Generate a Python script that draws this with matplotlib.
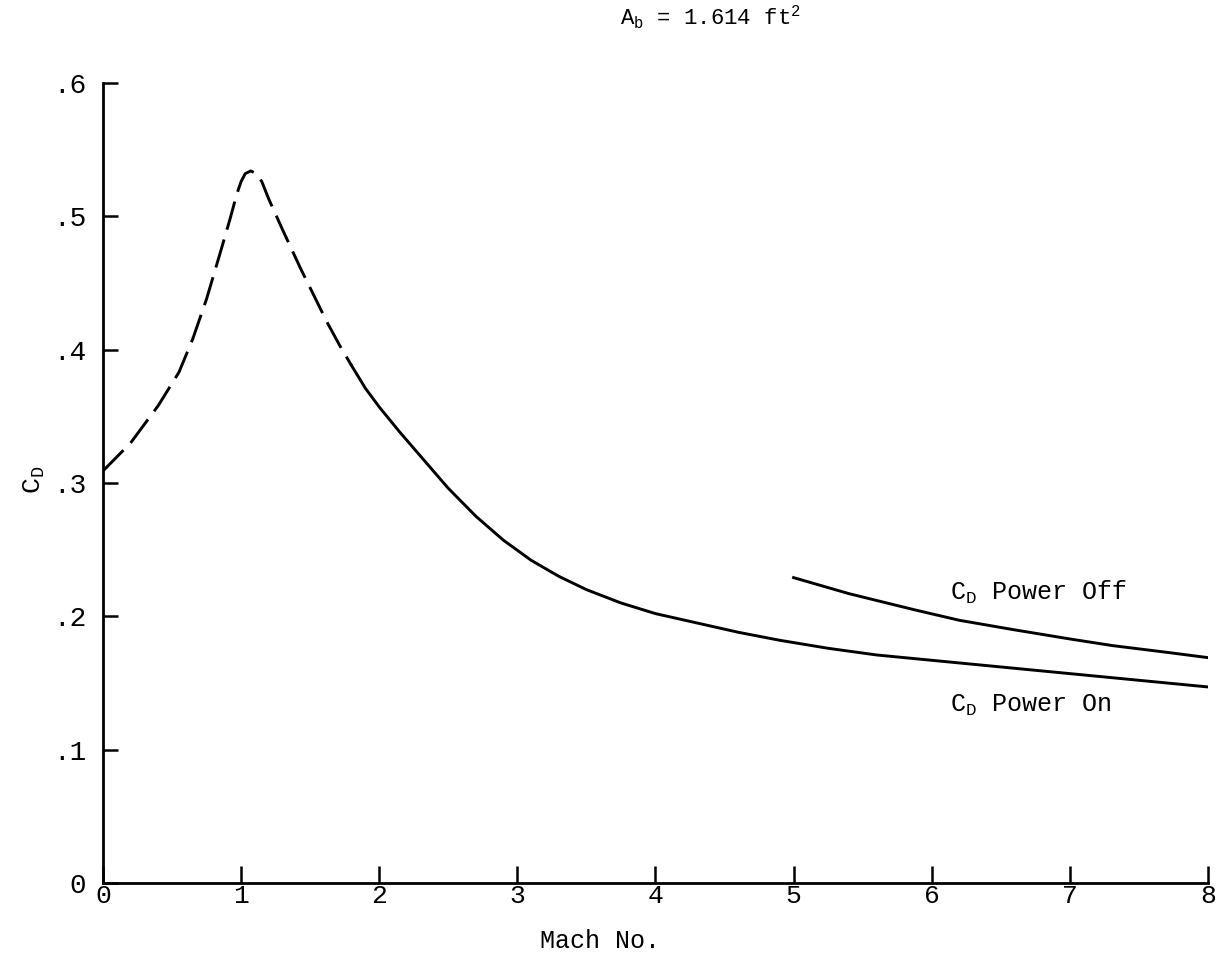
import numpy as np
import matplotlib.pyplot as plt

plt.rcParams['font.family'] = ['Liberation Mono', 'DejaVu Sans Mono']
plt.rcParams['mathtext.fontset'] = 'custom'
plt.rcParams['mathtext.rm'] = 'Liberation Mono'
plt.rcParams['mathtext.it'] = 'Liberation Mono'

# C_D vs Mach, power on (dashed part = estimated transonic region)
mach_dash = [0.00, 0.20, 0.40, 0.55, 0.65, 0.75, 0.85, 0.92, 0.97, 1.00, 1.03,
             1.07, 1.11, 1.15, 1.20, 1.30, 1.43, 1.53, 1.62, 1.72, 1.80]
cd_dash = [0.309, 0.330, 0.358, 0.383, 0.408, 0.438, 0.473, 0.498, 0.517, 0.526, 0.532,
           0.534, 0.532, 0.526, 0.513, 0.490, 0.461, 0.440, 0.421, 0.402, 0.388]

mach_on = [1.80, 1.90, 2.00, 2.15, 2.30, 2.50, 2.70, 2.90, 3.10, 3.30, 3.50, 3.75,
           4.00, 4.30, 4.60, 4.90, 5.25, 5.60, 6.00, 6.50, 7.00, 7.50, 8.00]
cd_on = [0.388, 0.371, 0.357, 0.338, 0.320, 0.296, 0.275, 0.257, 0.242, 0.230, 0.220, 0.210,
         0.202, 0.195, 0.188, 0.182, 0.176, 0.171, 0.167, 0.162, 0.157, 0.152, 0.147]

mach_off = [5.00, 5.40, 5.87, 6.20, 6.59, 7.00, 7.31, 7.70, 8.00]
cd_off = [0.229, 0.217, 0.205, 0.197, 0.190, 0.183, 0.178, 0.173, 0.169]

x_ticks = [0, 1, 2, 3, 4, 5, 6, 7, 8]
x_labels = ['0', '1', '2', '3', '4', '5', '6', '7', '8']
y_ticks = [0.0, 0.1, 0.2, 0.3, 0.4, 0.5, 0.6]
y_labels = ['0', '.1', '.2', '.3', '.4', '.5', '.6']

fig = plt.figure(figsize=(12.2, 9.69), dpi=100)
ax = fig.add_axes([0.0844, 0.0888, 0.9057, 0.8256])

ax.plot(mach_dash, cd_dash, color='black', lw=2.1, linestyle=(0, (10, 3.5)))
ax.plot(mach_on, cd_on, color='black', lw=2.1)
ax.plot(mach_off, cd_off, color='black', lw=2.1)

ax.set_xlim(0, 8)
ax.set_ylim(0, 0.6)
ax.spines['top'].set_visible(False)
ax.spines['right'].set_visible(False)
for s in ['left', 'bottom']:
    ax.spines[s].set_linewidth(2.0)

ax.set_xticks(x_ticks)
ax.set_xticklabels(x_labels, fontsize=19)
ax.set_yticks(y_ticks)
ax.set_yticklabels(y_labels, fontsize=20)
ax.tick_params(axis='y', direction='in', length=11, width=1.8, pad=12)
ax.tick_params(axis='x', direction='in', length=12, width=1.8, pad=1)

ax.text(6.13, 0.212, 'C$_\\mathrm{D}$ Power Off', fontsize=18)
ax.text(6.13, 0.128, 'C$_\\mathrm{D}$ Power On', fontsize=18)

fig.text(0.018, 0.505, 'C$_\\mathrm{D}$', rotation=90, fontsize=19, va='center')
fig.text(0.443, 0.022, 'Mach No.', fontsize=18)
fig.text(0.508, 0.982, 'A$_\\mathrm{b}$ = 1.614 ft$^2$', fontsize=16, va='center')

fig.savefig('out.png', dpi=100)
